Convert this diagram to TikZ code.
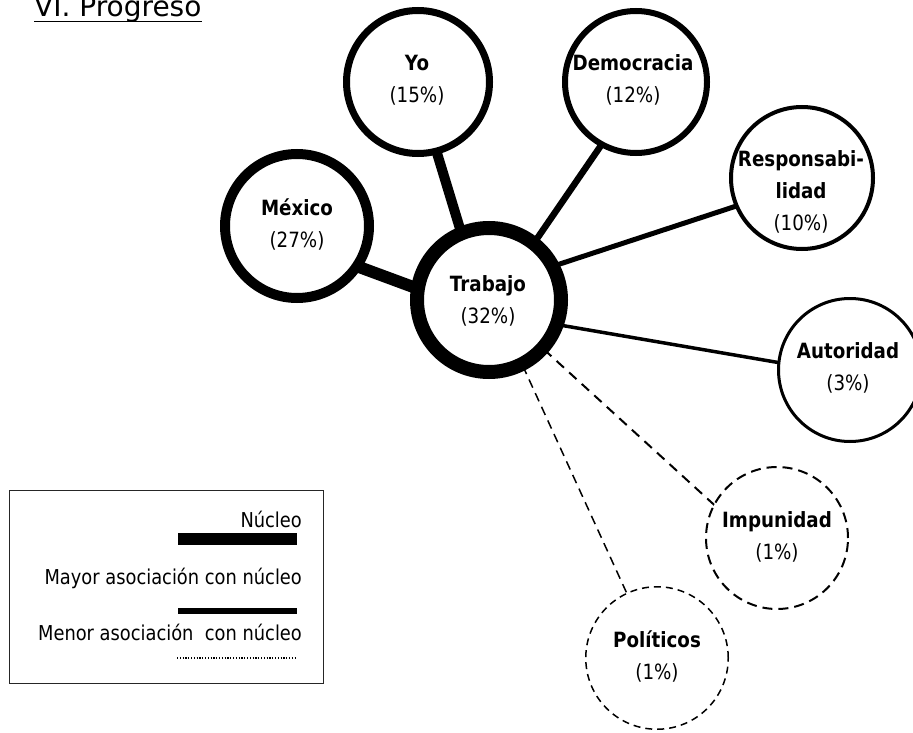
\documentclass[tikz,border=0pt]{standalone}
\usepackage{fontspec}
\setmainfont{DejaVu Sans}
\newfontfamily\narrowsans{DejaVu Sans}[FakeStretch=0.87]
\pgfdeclarelayer{bg}
\pgfsetlayers{bg,main}
\begin{document}
\begin{tikzpicture}[x=1pt,y=-1pt,
  ring/.style={circle, draw=black, fill=white, inner sep=0pt},
  lbl/.style={align=center, inner sep=0pt, font=\narrowsans\fontsize{21}{32}\selectfont},
  legtxt/.style={anchor=base east, inner sep=0pt, font=\narrowsans\fontsize{20.5}{24}\selectfont},
  link/.style={draw=black, line cap=butt, shorten <=-5pt, shorten >=-5pt},
  weak/.style={link, dash pattern=on 10pt off 7pt},
]
\useasboundingbox (0,0) rectangle (913,733);
\clip (0,0) rectangle (913,733);

% title
\node[anchor=base west, inner sep=0pt, font=\fontsize{28}{30}\selectfont] (title) at (34,17) {VI. Progreso};
\draw[line width=1.8pt] ([yshift=-4.5pt]title.base west) -- ([yshift=-4.5pt]title.base east);

% concept circles, rim width falls with association strength
\node[ring, line width=14pt, minimum size=144pt] (trabajo) at (489,300) {};
\node[ring, line width=10pt, minimum size=144pt] (mexico) at (297,226) {};
\node[ring, line width=7pt, minimum size=143pt] (yo) at (418,82) {};
\node[ring, line width=6pt, minimum size=142pt] (democracia) at (636,82) {};
\node[ring, line width=4pt, minimum size=142pt] (respons) at (802,178) {};
\node[ring, line width=3pt, minimum size=143pt] (autoridad) at (850,370) {};
\node[ring, line width=2pt, minimum size=142pt, dash pattern=on 10pt off 6pt] (impunidad) at (777,538) {};
\node[ring, line width=1.5pt, minimum size=142.5pt, dash pattern=on 7pt off 5pt] (politicos) at (657,658) {};

% labels
\node[lbl] (trabajoT) at (488,301) {\textbf{Trabajo}\\(32\%)};
\node[lbl] (mexicoT) at (297,224) {\textbf{México}\\(27\%)};
\node[lbl] (yoT) at (417,80) {\textbf{Yo}\\(15\%)};
\node[lbl] (democraciaT) at (633,80) {\textbf{Democracia}\\(12\%)};
\node[lbl] (responsT) at (801,192) {\textbf{Responsabi-}\\\textbf{lidad}\\(10\%)};
\node[lbl] (autoridadT) at (848,368) {\textbf{Autoridad}\\(3\%)};
\node[lbl] (impunidadT) at (777,537) {\textbf{Impunidad}\\(1\%)};
\node[lbl] (politicosT) at (657,656) {\textbf{Políticos}\\(1\%)};

% connectors to the core
\begin{pgfonlayer}{bg}
\draw[link, line width=12pt] (mexico.-33) -- (trabajo.170);
\draw[link, line width=10pt] (yo.-75) -- (trabajo.112);
\draw[link, line width=6.5pt] (democracia.-119) -- (trabajo.52);
\draw[link, line width=5pt] (respons.203) -- (trabajo.27);
\draw[link, line width=3.5pt] (autoridad.174) -- (trabajo.-19.5);
\draw[weak, line width=2pt] (trabajo.-42) -- (impunidad.152);
\draw[weak, line width=1.5pt, dash pattern=on 9pt off 6pt] (trabajo.-63) -- (politicos.115);
\end{pgfonlayer}

% legend
\node[draw=black!85, line width=1.2pt, minimum width=314pt, minimum height=193pt, inner sep=0pt, anchor=north west] (legend) at (9,490) {};
\node[legtxt] (legCore) at (302,527) {Núcleo};
\draw[line width=12pt] (178,539) -- (297,539);
\node[legtxt] (legMajor) at (302,584) {Mayor asociación con núcleo};
\draw[line width=6pt] (178,611) -- (297,611);
\node[legtxt] (legMinor) at (302,640) {Menor asociación\ \ con núcleo};
\draw[line width=1.3pt, dash pattern=on 1.2pt off 1.6pt] (177,658) -- (295,658);
\end{tikzpicture}
\end{document}
